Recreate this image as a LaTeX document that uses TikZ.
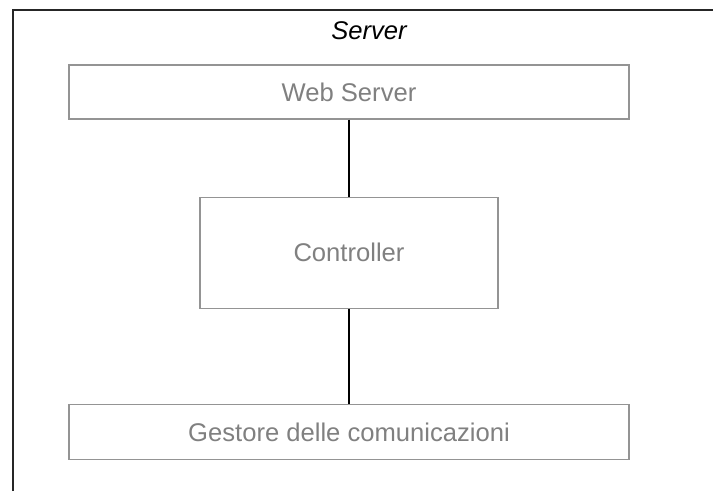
\documentclass[tikz,border=0pt]{standalone}
\usepackage{fontspec}
\setmainfont{Liberation Sans}
\usetikzlibrary{positioning}
\begin{document}
\begin{tikzpicture}[x=1pt, y=1pt, node distance=77pt, auto]
        % Define block styles
        \tikzstyle{layer} = [rectangle, draw=black!42, line width=1.3pt, text=black!50, text centered, font=\fontsize{25.6}{30}\selectfont, minimum height=54pt, minimum width=560pt, inner sep=0pt]
        \tikzstyle{core} = [layer, minimum height=111pt, minimum width=298pt]
        \tikzstyle{link} = [-, line width=1.3pt, black]

        % Canvas and frame
        \useasboundingbox (0,0) rectangle (713,-491);
        \draw[line width=2pt, black!85] (13,-491) -- (13,-9.5) -- (713,-9.5);
        \node[font=\itshape\fontsize{25.6}{30}\selectfont] (title) at (369,-31) {Server};

        % Nodes
        \node[layer] (web) at (349,-92) {Web Server};
        \node[core, below=77pt of web] (ctrl) {Controller};
        \node[layer, below=95pt of ctrl, minimum height=55pt] (comm) {Gestore delle comunicazioni};

        % Connectors
        \draw[link] (web) -- (ctrl);
        \draw[link] (ctrl) -- (comm);
\end{tikzpicture}
\end{document}
